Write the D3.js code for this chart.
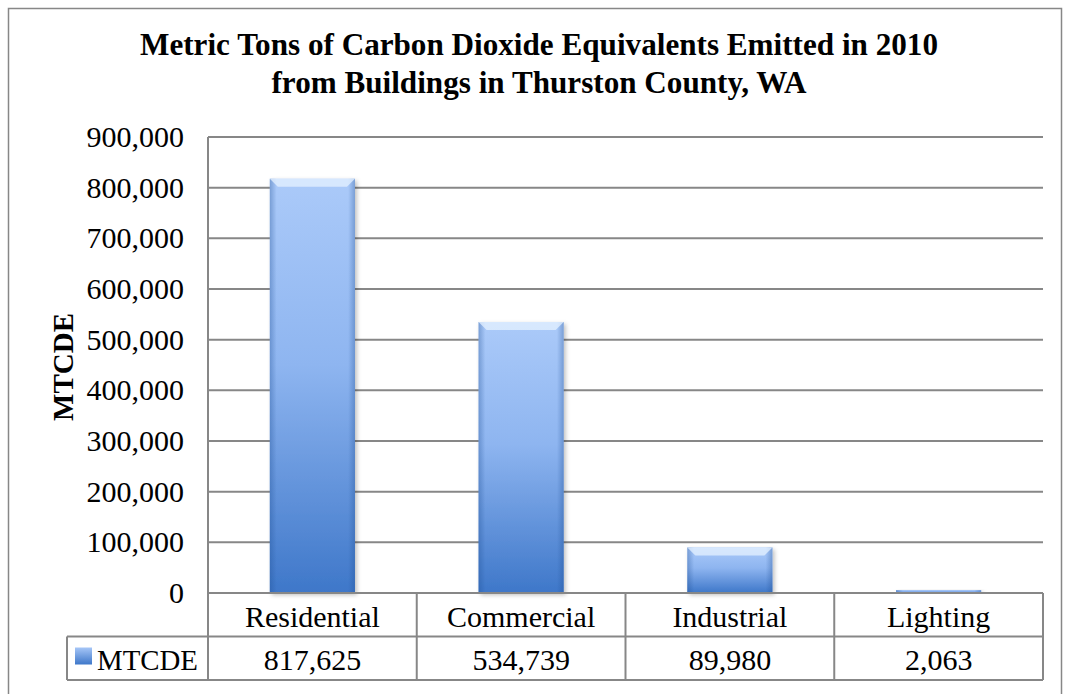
<!DOCTYPE html>
<html>
<head>
<meta charset="utf-8">
<script src="https://cdnjs.cloudflare.com/ajax/libs/d3/7.8.5/d3.min.js"></script>
<style>
body { margin: 0; background: #fff; }
text { font-family: "Liberation Serif", "Times New Roman", serif; fill: #000; }
</style>
</head>
<body>
<svg id="chart" width="1067" height="694"></svg>
<script>
// chart data
var categories = ['Residential', 'Commercial', 'Industrial', 'Lighting'];
var values = [817625, 534739, 89980, 2063];
var seriesName = 'MTCDE';
var yTicks = [0, 100000, 200000, 300000, 400000, 500000, 600000, 700000, 800000, 900000];
var titleLines = ['Metric Tons of Carbon Dioxide Equivalents Emitted in 2010',
                  'from Buildings in Thurston County, WA'];

var svg = d3.select('#chart');
var margin = {left: 208, right: 1043, top: 137, bottom: 593};
var rowH = 43.5;
var fmt = d3.format(',');
var grey = '#878787';

var x = d3.scaleBand().domain(categories).range([margin.left, margin.right]).paddingInner(0.592).paddingOuter(0.296);
var xCell = d3.scaleBand().domain(categories).range([margin.left, margin.right]);
var y = d3.scaleLinear().domain([0, 900000]).range([margin.bottom, margin.top]);

var defs = svg.append('defs');
var grad = defs.append('linearGradient').attr('id', 'barGrad').attr('x1', 0).attr('y1', 0).attr('x2', 0).attr('y2', 1);
grad.append('stop').attr('offset', '0%').attr('stop-color', '#abcaf9');
grad.append('stop').attr('offset', '45%').attr('stop-color', '#8eb5f0');
grad.append('stop').attr('offset', '100%').attr('stop-color', '#3e77c9');
var side = defs.append('linearGradient').attr('id', 'sideGrad').attr('x1', 0).attr('y1', 0).attr('x2', 1).attr('y2', 0);
side.append('stop').attr('offset', '0%').attr('stop-color', '#1f4f94').attr('stop-opacity', 0.35);
side.append('stop').attr('offset', '8%').attr('stop-color', '#1f4f94').attr('stop-opacity', 0);
side.append('stop').attr('offset', '92%').attr('stop-color', '#1f4f94').attr('stop-opacity', 0);
side.append('stop').attr('offset', '100%').attr('stop-color', '#1f4f94').attr('stop-opacity', 0.35);
var keyGrad = defs.append('linearGradient').attr('id', 'keyGrad').attr('x1', 0).attr('y1', 0).attr('x2', 0).attr('y2', 1);
keyGrad.append('stop').attr('offset', '0%').attr('stop-color', '#a6c6f7');
keyGrad.append('stop').attr('offset', '100%').attr('stop-color', '#3e77c9');
var shadow = defs.append('filter').attr('id', 'shadow').attr('x', '-10%').attr('y', '-10%').attr('width', '130%').attr('height', '130%');
shadow.append('feDropShadow').attr('dx', 2).attr('dy', 2).attr('stdDeviation', 2).attr('flood-color', '#000').attr('flood-opacity', 0.25);

// outer border
svg.append('rect').attr('x', 8.5).attr('y', 8.5).attr('width', 1053).attr('height', 700)
  .attr('fill', 'none').attr('stroke', grey).attr('stroke-width', 1.5);

// title
svg.selectAll('.title').data(titleLines).enter().append('text')
  .attr('class', 'title')
  .attr('x', 539)
  .attr('y', function(d, i) { return 55 + i * 38; })
  .attr('text-anchor', 'middle')
  .attr('font-size', 31)
  .attr('font-weight', 'bold')
  .attr('textLength', function(d, i) { return i === 0 ? 798 : 535; })
  .attr('lengthAdjust', 'spacingAndGlyphs')
  .text(function(d) { return d; });

// gridlines
svg.selectAll('.grid').data(yTicks.slice(1)).enter().append('line')
  .attr('class', 'grid')
  .attr('x1', margin.left).attr('x2', margin.right)
  .attr('y1', function(d) { return y(d); }).attr('y2', function(d) { return y(d); })
  .attr('stroke', grey).attr('stroke-width', 2);

// y tick labels
svg.selectAll('.ytick').data(yTicks).enter().append('text')
  .attr('class', 'ytick')
  .attr('x', 184)
  .attr('y', function(d) { return y(d) + 10; })
  .attr('text-anchor', 'end')
  .attr('font-size', 30)
  .text(function(d) { return fmt(d); });

// y axis title
svg.append('text')
  .attr('transform', 'translate(73,' + 367 + ') rotate(-90)')
  .attr('text-anchor', 'middle')
  .attr('font-size', 29)
  .attr('font-weight', 'bold')
  .text(seriesName);

// bars
var bars = svg.selectAll('.bar').data(values).enter().append('g').attr('class', 'bar');
bars.append('rect')
  .attr('x', function(d, i) { return x(categories[i]); })
  .attr('y', function(d) { return Math.min(y(d), y(0) - 3); })
  .attr('width', x.bandwidth())
  .attr('height', function(d) { return Math.max(3, y(0) - y(d)); })
  .attr('fill', 'url(#barGrad)')
  .attr('filter', 'url(#shadow)');
bars.append('rect')
  .attr('x', function(d, i) { return x(categories[i]); })
  .attr('y', function(d) { return Math.min(y(d), y(0) - 3); })
  .attr('width', x.bandwidth())
  .attr('height', function(d) { return Math.max(3, y(0) - y(d)); })
  .attr('fill', 'url(#sideGrad)');
// top bevel highlight
bars.append('path')
  .attr('d', function(d, i) {
    var x0 = x(categories[i]), x1 = x0 + x.bandwidth(), t = y(d);
    var h = Math.min(8, (y(0) - t) / 2);
    return 'M' + x0 + ',' + t + 'L' + x1 + ',' + t + 'L' + (x1 - h) + ',' + (t + h) + 'L' + (x0 + h) + ',' + (t + h) + 'Z';
  })
  .attr('fill', '#e6f1ff').attr('opacity', 0.75);

// data table
var tableTop = margin.bottom, tableMid = margin.bottom + rowH, tableBot = margin.bottom + 2 * rowH;
var lines = [
  [margin.left, tableTop, margin.right, tableTop],
  [67, tableMid, margin.right, tableMid],
  [67, tableBot, margin.right, tableBot],
  [67, tableMid, 67, tableBot],
  [margin.left, margin.top, margin.left, tableBot]
];
categories.forEach(function(c) {
  lines.push([xCell(c) + xCell.bandwidth(), tableTop, xCell(c) + xCell.bandwidth(), tableBot]);
});
svg.selectAll('.tline').data(lines).enter().append('line')
  .attr('class', 'tline')
  .attr('x1', function(d) { return d[0]; }).attr('y1', function(d) { return d[1]; })
  .attr('x2', function(d) { return d[2]; }).attr('y2', function(d) { return d[3]; })
  .attr('stroke', grey).attr('stroke-width', 2);

svg.selectAll('.cat').data(categories).enter().append('text')
  .attr('class', 'cat')
  .attr('x', function(d) { return xCell(d) + xCell.bandwidth() / 2; })
  .attr('y', tableTop + 34)
  .attr('text-anchor', 'middle')
  .attr('font-size', 30)
  .text(function(d) { return d; });

svg.selectAll('.val').data(values).enter().append('text')
  .attr('class', 'val')
  .attr('x', function(d, i) { return xCell(categories[i]) + xCell.bandwidth() / 2; })
  .attr('y', tableMid + 33)
  .attr('text-anchor', 'middle')
  .attr('font-size', 30)
  .text(function(d) { return fmt(d); });

// legend key
svg.append('rect').attr('x', 75).attr('y', tableMid + 11).attr('width', 17).attr('height', 17)
  .attr('fill', 'url(#keyGrad)');
svg.append('text').attr('x', 97).attr('y', tableMid + 33).attr('font-size', 30)
  .attr('textLength', 101).attr('lengthAdjust', 'spacingAndGlyphs').text(seriesName);
</script>
</body>
</html>
